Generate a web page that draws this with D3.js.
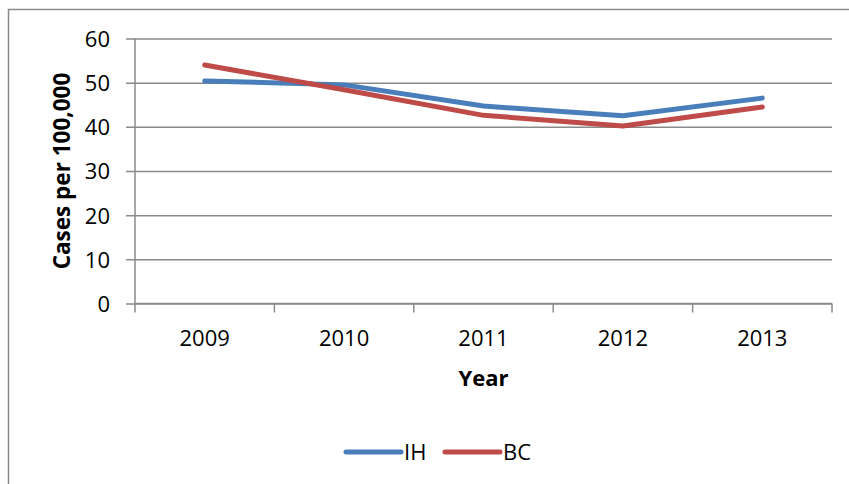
<!DOCTYPE html>
<html>
<head>
<meta charset="utf-8">
<script src="https://cdn.jsdelivr.net/npm/d3@7"></script>
<style>
  html, body { margin: 0; padding: 0; background: #fff; }
  svg { display: block; }
  text { font-family: "Open Sans", "Noto Sans", sans-serif; fill: #000; }
</style>
</head>
<body>
<svg id="chart" width="849" height="484"></svg>
<script>
// Rates per 100,000 by year
const years = ["2009", "2010", "2011", "2012", "2013"];
const ihValues = [50.4, 49.5, 44.7, 42.5, 46.5];
const bcValues = [54.0, 48.4, 42.6, 40.2, 44.5];
const yTicks = [0, 10, 20, 30, 40, 50, 60];
const seriesNames = ["IH", "BC"];
const seriesColors = ["#4a7ebb", "#be4b48"];

const series = [
  { name: seriesNames[0], values: ihValues, color: seriesColors[0] },
  { name: seriesNames[1], values: bcValues, color: seriesColors[1] }
];

const svg = d3.select("#chart");
const W = 849, H = 484;
const plot = { left: 135, right: 832, top: 38.5, bottom: 303.5 };
const gridColor = "#8a8a8a";

// outer chart frame
svg.append("rect")
  .attr("x", 8.5).attr("y", 9.5)
  .attr("width", W + 10).attr("height", H + 10)
  .attr("fill", "none").attr("stroke", gridColor).attr("stroke-width", 1.5);

const x = d3.scaleBand().domain(years).range([plot.left, plot.right]).padding(0);
const y = d3.scaleLinear().domain([0, 60]).range([plot.bottom, plot.top]);

// horizontal gridlines with outward ticks
const yAxis = d3.axisLeft(y).tickValues(yTicks).tickSize(-(plot.right - plot.left)).tickPadding(25);
const gy = svg.append("g").attr("transform", `translate(${plot.left},0)`).call(yAxis);
gy.select(".domain").remove();
gy.selectAll(".tick line")
  .attr("x1", -9)
  .attr("stroke", gridColor).attr("stroke-width", 1.5);
gy.selectAll(".tick text")
  .attr("font-size", 22).attr("dy", "0.36em").attr("font-family", "Open Sans, sans-serif");

// vertical axis line
svg.append("line")
  .attr("x1", plot.left).attr("x2", plot.left)
  .attr("y1", plot.top).attr("y2", plot.bottom + 9)
  .attr("stroke", gridColor).attr("stroke-width", 1.5);

// category axis
const boundaries = years.map(d => x(d)).concat([plot.right]);
const gx = svg.append("g");
gx.append("line")
  .attr("x1", plot.left).attr("x2", plot.right)
  .attr("y1", plot.bottom).attr("y2", plot.bottom)
  .attr("stroke", gridColor).attr("stroke-width", 1.5);
gx.selectAll("line.tick")
  .data(boundaries.slice(1))
  .join("line").attr("class", "tick")
  .attr("x1", d => d).attr("x2", d => d)
  .attr("y1", plot.bottom).attr("y2", plot.bottom + 9)
  .attr("stroke", gridColor).attr("stroke-width", 1.5);
gx.selectAll("text")
  .data(years)
  .join("text")
  .attr("x", d => x(d) + x.bandwidth() / 2)
  .attr("y", 338)
  .attr("dy", "0.36em")
  .attr("text-anchor", "middle")
  .attr("font-size", 22)
  .text(d => d);

// axis titles
svg.append("text")
  .attr("transform", "translate(62,171) rotate(-90)")
  .attr("text-anchor", "middle").attr("dy", "0.36em")
  .attr("font-size", 22.5).attr("font-weight", "bold")
  .text("Cases per 100,000");
svg.append("text")
  .attr("x", (plot.left + plot.right) / 2).attr("y", 378)
  .attr("text-anchor", "middle").attr("dy", "0.36em")
  .attr("font-size", 22).attr("font-weight", "bold")
  .text("Year");

// series lines
const line = d3.line()
  .x((d, i) => x(years[i]) + x.bandwidth() / 2)
  .y(d => y(d));
svg.append("g").selectAll("path")
  .data(series)
  .join("path")
  .attr("d", d => line(d.values))
  .attr("fill", "none")
  .attr("stroke", d => d.color)
  .attr("stroke-width", 5)
  .attr("stroke-linejoin", "round")
  .attr("stroke-linecap", "round");

// legend
const legendX = [346, 445];
const legend = svg.append("g").selectAll("g")
  .data(series)
  .join("g")
  .attr("transform", (d, i) => `translate(${legendX[i]},452)`);
legend.append("line")
  .attr("x1", 0).attr("x2", 55)
  .attr("stroke", d => d.color).attr("stroke-width", 5)
  .attr("stroke-linecap", "round");
legend.append("text")
  .attr("x", 58).attr("dy", "0.36em")
  .attr("font-size", 22)
  .text(d => d.name);
</script>
</body>
</html>
